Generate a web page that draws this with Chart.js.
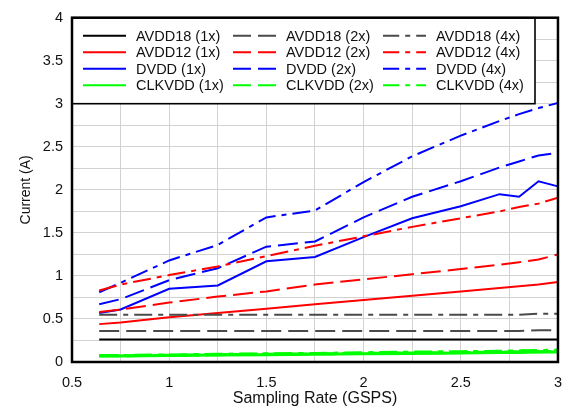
<!DOCTYPE html>
<html>
<head>
<meta charset="utf-8">
<script src="https://cdn.jsdelivr.net/npm/chart.js@4"></script>
<style>
  html, body { margin: 0; padding: 0; background: #fff; }
  #wrap { width: 574px; height: 408px; }
</style>
</head>
<body>
<div id="wrap"><canvas id="powerChart" width="574" height="408"></canvas></div>
<script>
// sampling rates (GSPS)
const rates = [0.64, 0.75, 1.0, 1.25, 1.5, 1.75, 2.0, 2.25, 2.5, 2.7, 2.8, 2.9, 3.0];

// currents (A)
const avdd18_1x = [0.26, 0.26, 0.26, 0.26, 0.26, 0.26, 0.26, 0.26, 0.26, 0.26, 0.26, 0.26, 0.26];
const avdd18_2x = [0.36, 0.36, 0.36, 0.36, 0.36, 0.36, 0.36, 0.36, 0.36, 0.36, 0.36, 0.37, 0.37];
const avdd18_4x = [0.55, 0.55, 0.55, 0.55, 0.55, 0.55, 0.55, 0.55, 0.55, 0.55, 0.55, 0.56, 0.56];
const avdd12_1x = [0.44, 0.46, 0.52, 0.57, 0.62, 0.67, 0.72, 0.77, 0.82, 0.86, 0.88, 0.9, 0.93];
const avdd12_2x = [0.58, 0.61, 0.69, 0.76, 0.82, 0.9, 0.96, 1.02, 1.08, 1.13, 1.16, 1.19, 1.25];
const avdd12_4x = [0.83, 0.9, 1.01, 1.11, 1.23, 1.35, 1.46, 1.57, 1.67, 1.75, 1.8, 1.84, 1.91];
const dvdd_1x = [0.57, 0.61, 0.85, 0.89, 1.17, 1.22, 1.45, 1.67, 1.81, 1.95, 1.92, 2.1, 2.04];
const dvdd_2x = [0.67, 0.73, 0.95, 1.09, 1.34, 1.4, 1.68, 1.92, 2.1, 2.26, 2.33, 2.4, 2.43];
const dvdd_4x = [0.81, 0.92, 1.18, 1.36, 1.68, 1.76, 2.09, 2.39, 2.63, 2.8, 2.88, 2.95, 3.01];
const clk_1x = [0.07, 0.07, 0.075, 0.08, 0.085, 0.09, 0.095, 0.1, 0.105, 0.11, 0.11, 0.115, 0.115];
const clk_2x = [0.072, 0.073, 0.078, 0.085, 0.09, 0.095, 0.1, 0.105, 0.11, 0.115, 0.12, 0.12, 0.125];
const clk_4x = [0.075, 0.076, 0.082, 0.09, 0.095, 0.1, 0.108, 0.115, 0.12, 0.125, 0.13, 0.133, 0.138];

const DASH = [20, 7];
const DASHDOT = [18, 6, 5, 6];

function series(label, values, color, dash, width) {
  return {
    label: label,
    data: values.map((v, i) => ({ x: rates[i], y: v })),
    borderColor: color,
    backgroundColor: color,
    borderDash: dash,
    borderWidth: width || 2,
    pointRadius: 0,
    tension: 0,
    fill: false
  };
}

const datasets = [
  series('AVDD18 (1x)', avdd18_1x, '#000000', []),
  series('AVDD18 (2x)', avdd18_2x, '#4a4a4a', DASH),
  series('AVDD18 (4x)', avdd18_4x, '#4a4a4a', DASHDOT),
  series('AVDD12 (1x)', avdd12_1x, '#ff0000', []),
  series('AVDD12 (2x)', avdd12_2x, '#ff0000', DASH),
  series('AVDD12 (4x)', avdd12_4x, '#ff0000', DASHDOT),
  series('DVDD (1x)', dvdd_1x, '#0000ff', []),
  series('DVDD (2x)', dvdd_2x, '#0000ff', DASH),
  series('DVDD (4x)', dvdd_4x, '#0000ff', DASHDOT),
  series('CLKVDD (1x)', clk_1x, '#00ff00', [], 3),
  series('CLKVDD (2x)', clk_2x, '#00ff00', DASH, 3),
  series('CLKVDD (4x)', clk_4x, '#00ff00', DASHDOT, 3)
];

// boxed 3-column legend in the top-left corner + heavy frame
const boxLegend = {
  id: 'boxLegend',
  afterDraw(chart) {
    const c = chart.ctx;
    const a = chart.chartArea;
    c.save();
    c.fillStyle = '#fff';
    c.fillRect(a.left, a.top, 463, 86);
    c.strokeStyle = '#000';
    c.lineWidth = 1.6;
    c.strokeRect(a.left, a.top, 463, 86);
    c.font = '14.5px "Liberation Sans", Arial, sans-serif';
    c.textBaseline = 'middle';
    c.fillStyle = '#111';
    chart.data.datasets.forEach((ds, i) => {
      const col = i % 3, row = Math.floor(i / 3);
      const x = a.left + 11 + col * 150;
      const y = a.top + 18 + row * 16.5;
      c.strokeStyle = ds.borderColor;
      c.lineWidth = 2;
      c.setLineDash(ds.borderDash.length ? [ds.borderDash[0] * 0.9, ds.borderDash[1]].concat(ds.borderDash.slice(2)) : []);
      c.beginPath();
      c.moveTo(x, y);
      c.lineTo(x + 43, y);
      c.stroke();
      c.setLineDash([]);
      c.fillText(ds.label, x + 53, y + 1);
    });
    c.strokeStyle = '#000';
    c.lineWidth = 2.5;
    c.strokeRect(a.left, a.top, a.right - a.left, a.bottom - a.top);
    c.restore();
  }
};

const tickFont = { family: '"Liberation Sans", Arial, sans-serif', size: 14.5 };

new Chart(document.getElementById('powerChart'), {
  type: 'line',
  data: { datasets: datasets },
  options: {
    responsive: false,
    animation: false,
    layout: { padding: { top: 12, right: 16, left: 0, bottom: 0 } },
    plugins: { legend: { display: false }, tooltip: { enabled: false } },
    scales: {
      x: {
        type: 'linear',
        min: 0.5,
        max: 3,
        afterFit(s) { s.height = 46; },
        grid: { color: '#d2d2d2', lineWidth: 1, drawTicks: false },
        border: { display: false },
        ticks: {
          stepSize: 0.25,
          padding: 12,
          color: '#111',
          font: tickFont,
          maxRotation: 0,
          autoSkip: false,
          callback: v => (Math.abs(v * 2 - Math.round(v * 2)) < 1e-6 ? v : '')
        },
        title: {
          display: true,
          text: 'Sampling Rate (GSPS)',
          color: '#111',
          font: { family: '"Liberation Sans", Arial, sans-serif', size: 16 },
          padding: { top: 1, bottom: 0 }
        }
      },
      y: {
        min: 0,
        max: 4,
        afterFit(s) { s.width = 72; },
        grid: { color: '#d2d2d2', lineWidth: 1, drawTicks: false },
        border: { display: false },
        ticks: {
          stepSize: 0.25,
          padding: 9,
          color: '#111',
          font: tickFont,
          autoSkip: false,
          callback: v => (Math.abs(v * 2 - Math.round(v * 2)) < 1e-6 ? v : '')
        },
        title: {
          display: true,
          text: 'Current (A)',
          color: '#111',
          font: { family: '"Liberation Sans", Arial, sans-serif', size: 14 },
          padding: { top: 18, bottom: 0 }
        }
      }
    }
  },
  plugins: [boxLegend]
});
</script>
</body>
</html>
